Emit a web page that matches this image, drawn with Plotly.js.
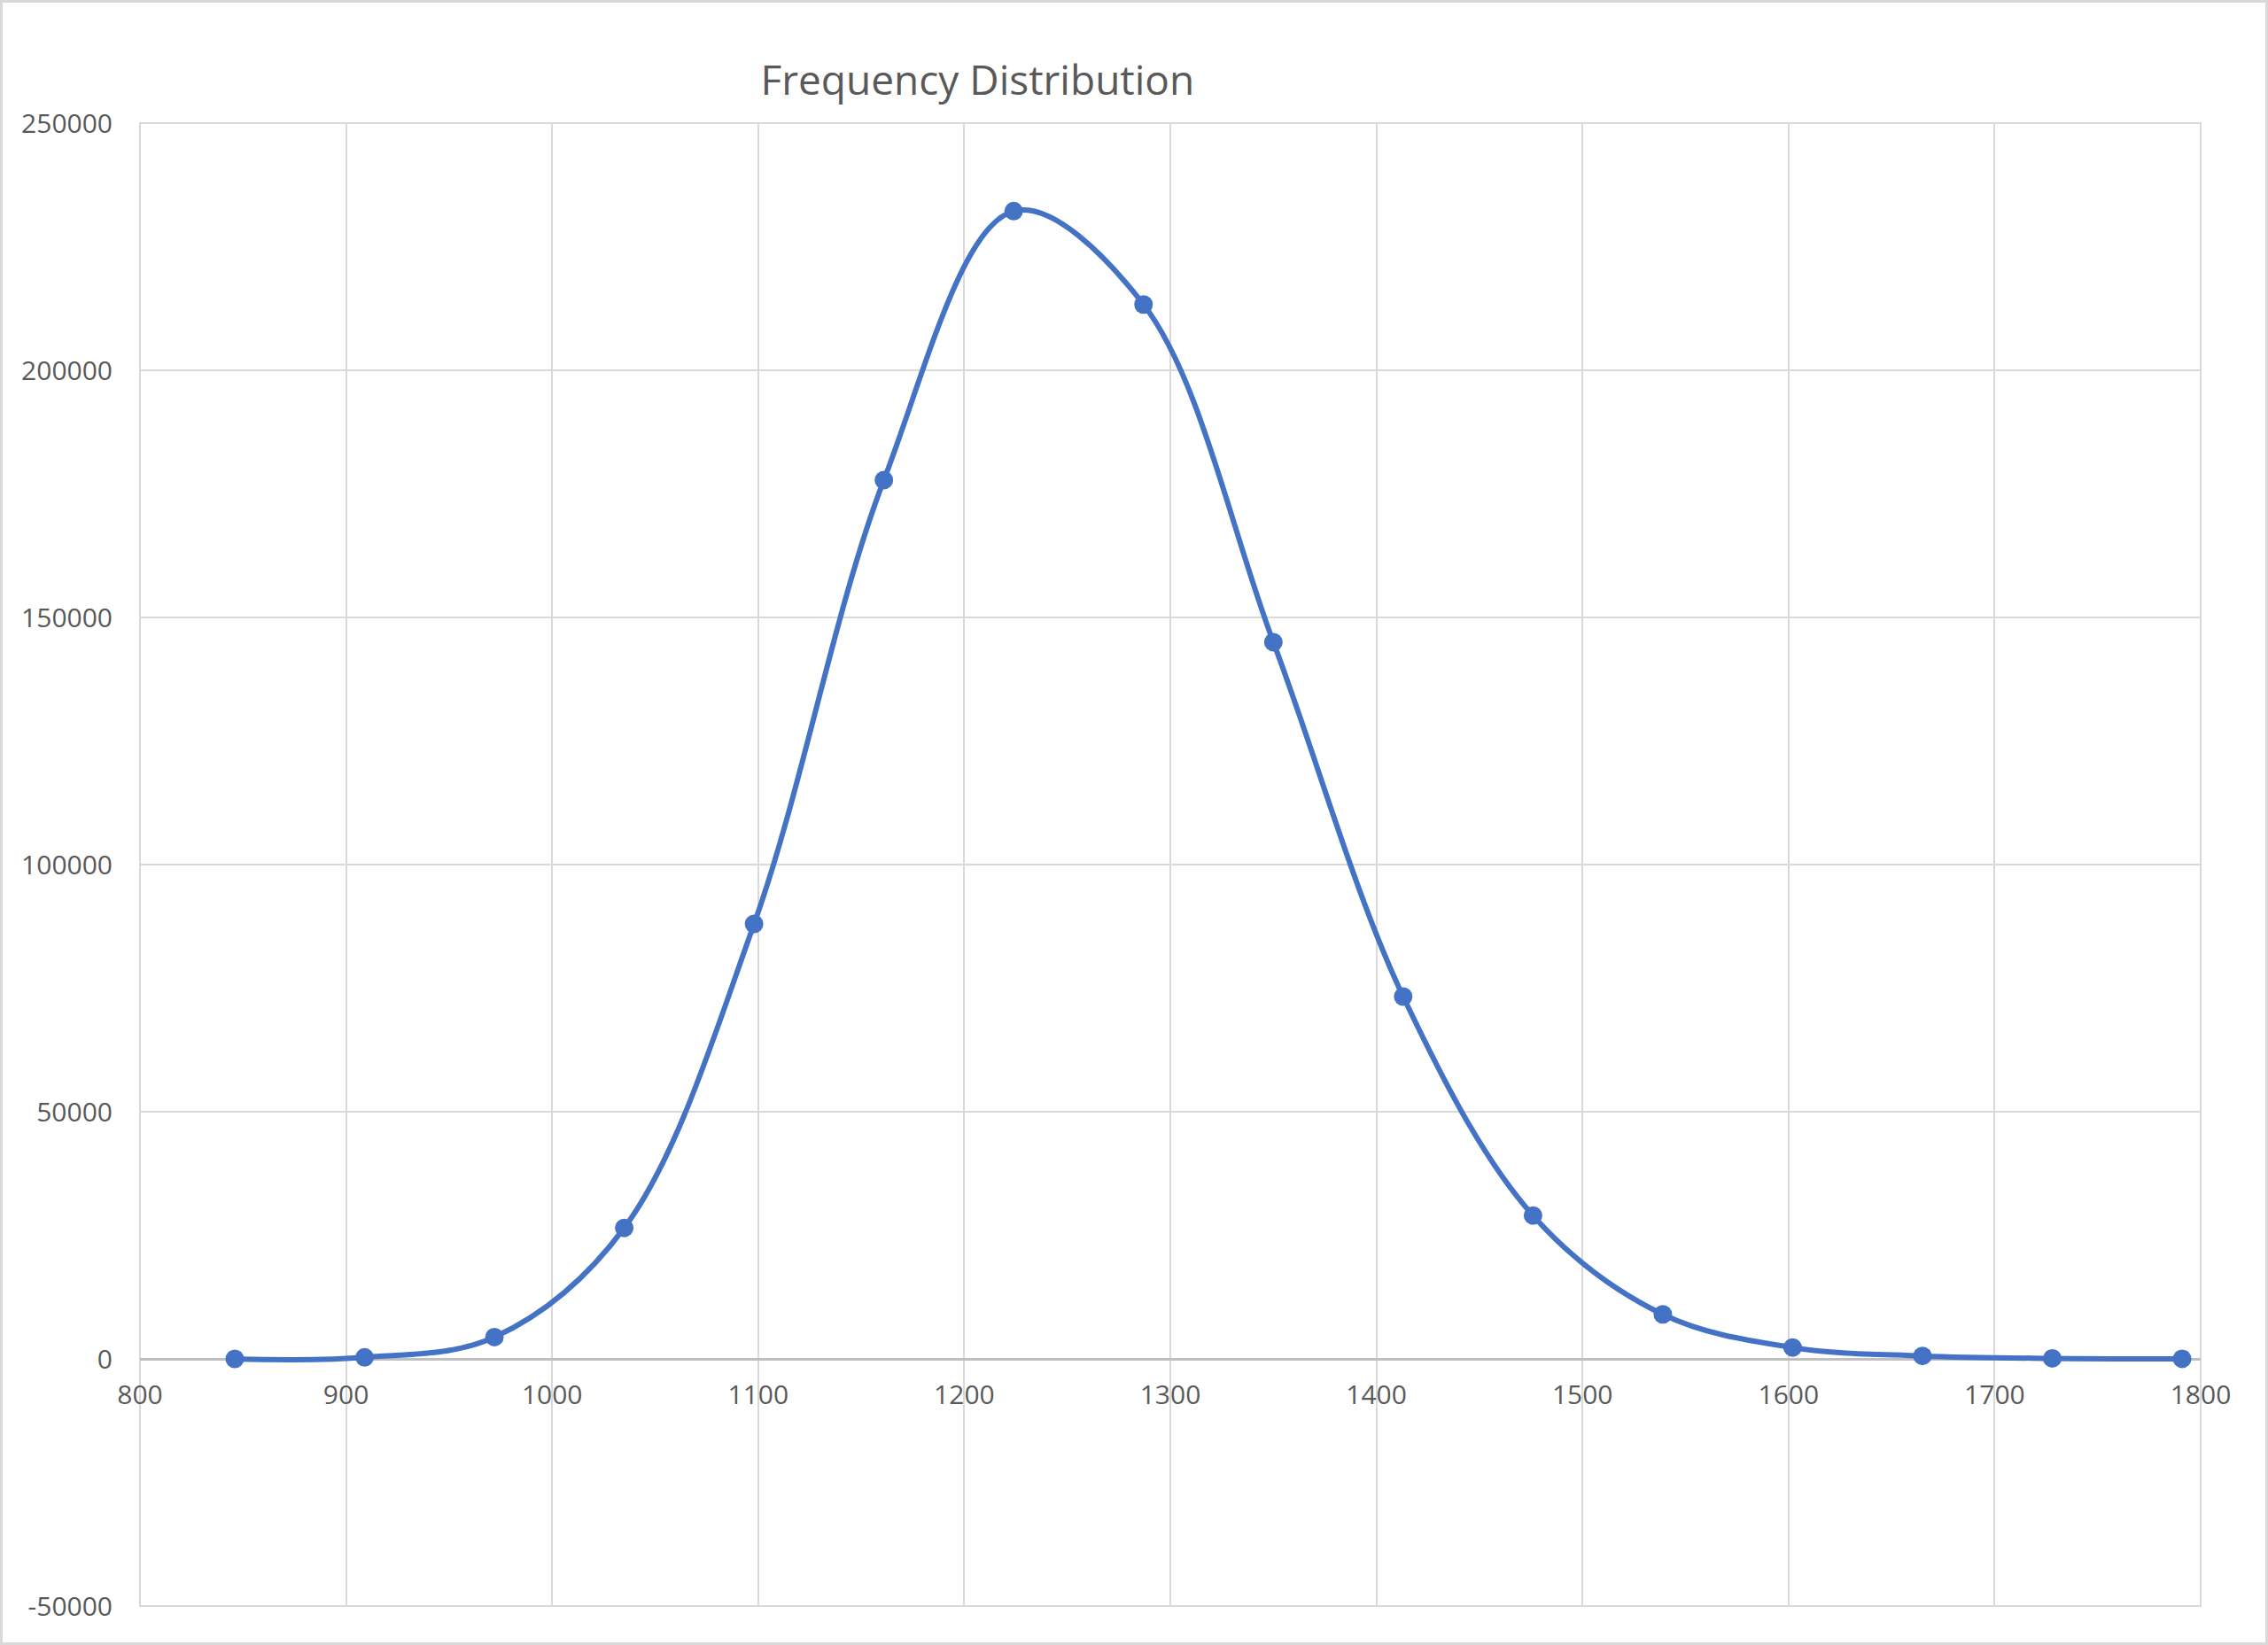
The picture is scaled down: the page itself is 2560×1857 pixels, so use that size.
<!DOCTYPE html>
<html>
<head>
<meta charset="utf-8">
<script src="https://cdn.plot.ly/plotly-3.0.1.min.js"></script>
<style>
  body { margin: 0; background: #fff; }
  #wrap { position: relative; width: 2560px; height: 1857px; }
  #chart { width: 2560px; height: 1857px; }
  #frame { position: absolute; left: 0; top: 0; width: 2560px; height: 1857px;
           box-sizing: border-box; border: 3px solid #d9d9d9; pointer-events: none; z-index: 10; }
</style>
</head>
<body>
<div id="wrap">
  <div id="chart"></div>
  <div id="frame"></div>
</div>
<script>
// frequency distribution values
var binCentres = [846, 909, 972, 1035, 1098, 1161, 1224, 1287, 1350, 1413, 1476, 1539, 1602, 1665, 1728, 1791];
var frequencies = [0, 300, 4400, 26500, 88000, 177800, 232200, 213300, 145000, 73300, 29000, 9000, 2300, 600, 100, 20];

var xTicks = [800, 900, 1000, 1100, 1200, 1300, 1400, 1500, 1600, 1700, 1800];
var yTicks = [-50000, 0, 50000, 100000, 150000, 200000, 250000];

var blue = '#4472C4';
var grey = '#595959';

var trace = {
  x: binCentres,
  y: frequencies,
  type: 'scatter',
  mode: 'lines+markers',
  line: { color: blue, width: 6, shape: 'spline', smoothing: 1 },
  marker: { color: blue, size: 21 },
  hoverinfo: 'x+y'
};

var layout = {
  width: 2560,
  height: 1857,
  margin: { l: 158, r: 76, t: 139, b: 44 },
  paper_bgcolor: '#fff',
  plot_bgcolor: '#fff',
  showlegend: false,
  font: { family: 'Open Sans, Noto Sans, sans-serif', color: grey, size: 30 },
  title: {
    text: 'Frequency Distribution',
    font: { size: 46, color: grey },
    xref: 'container', x: 0.431, xanchor: 'center',
    yref: 'container', y: 0.951, yanchor: 'middle'
  },
  xaxis: {
    range: [800, 1800],
    tickvals: xTicks,
    ticktext: xTicks.map(String),
    showgrid: true, gridcolor: '#d9d9d9', gridwidth: 2,
    zeroline: false,
    showline: false,
    ticks: '',
    anchor: 'free',
    position: 1 / 6,
    ticklabelstandoff: 20
  },
  yaxis: {
    range: [-50000, 250000],
    tickvals: yTicks,
    ticktext: yTicks.map(String),
    showgrid: true, gridcolor: '#d9d9d9', gridwidth: 2,
    zeroline: true, zerolinecolor: '#bfbfbf', zerolinewidth: 3,
    showline: false,
    ticks: '',
    ticklabelstandoff: 30
  },
  // frame of the plot area (the gridlines at the range ends)
  shapes: [{
    type: 'rect', xref: 'paper', yref: 'paper', x0: 0, x1: 1, y0: 0, y1: 1,
    line: { color: '#d9d9d9', width: 2 }, layer: 'below'
  }]
};

Plotly.newPlot('chart', [trace], layout, { displayModeBar: false });
</script>
</body>
</html>
